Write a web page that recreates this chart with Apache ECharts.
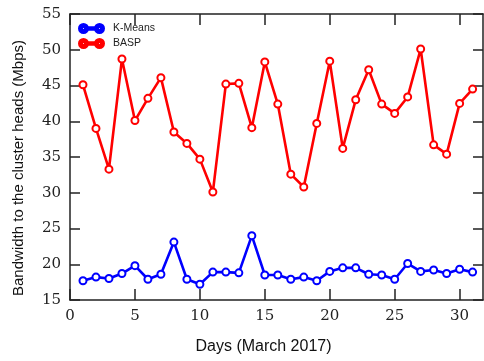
<!DOCTYPE html>
<html>
<head>
<meta charset="utf-8">
<script src="https://cdn.jsdelivr.net/npm/echarts@6/dist/echarts.min.js"></script>
<style>html,body{margin:0;padding:0;background:#fff}#c{width:484px;height:361px}</style>
</head>
<body>
<div id="c"></div>
<script>
var days = [];
for (var d = 1; d <= 31; d++) days.push(d);
var kmeans = [17.7,18.2,18.0,18.7,19.8,17.9,18.6,23.1,17.9,17.2,18.9,18.9,18.8,24.0,18.5,18.5,17.9,18.2,17.7,19.0,19.5,19.5,18.6,18.5,17.9,20.1,19.0,19.2,18.7,19.3,18.9];
var basp = [45.1,39.0,33.3,48.7,40.1,43.2,46.1,38.5,36.9,34.7,30.1,45.2,45.3,39.1,48.3,42.4,32.6,30.8,39.7,48.4,36.2,43.0,47.2,42.4,41.1,43.4,50.1,36.7,35.4,42.5,44.5];
var xTicks = [0,5,10,15,20,25,30];
var yTicks = [15,20,25,30,35,40,45,50,55];

function pairs(v){ return v.map(function(y,i){ return [days[i], y]; }); }

var axisLineStyle = {color:'#222', width:1.5};
var serif = 'DejaVu Serif';
var sans = 'Liberation Sans';
var legendIcon = 'path://M0,4.5a4.5,4.5 0 1,0 9,0a4.5,4.5 0 1,0 -9,0Z M3,4.5a1.5,1.5 0 1,1 3,0a1.5,1.5 0 1,1 -3,0Z M16,4.5a4.5,4.5 0 1,0 9,0a4.5,4.5 0 1,0 -9,0Z M19,4.5a1.5,1.5 0 1,1 3,0a1.5,1.5 0 1,1 -3,0Z M8.5,3.2L16.5,3.2L16.5,5.8L8.5,5.8Z';

var chart = echarts.init(document.getElementById('c'), null, {renderer:'canvas'});
chart.setOption({
  animation:false,
  backgroundColor:'#fff',
  grid:{left:70, top:14, right:1, bottom:61, containLabel:false},
  legend:{
    orient:'vertical', left:78, top:23, padding:0, itemWidth:25, itemHeight:9, itemGap:4,
    icon: legendIcon,
    textStyle:{fontFamily:sans, fontSize:10.5, color:'#222', padding:[0,0,0,4]},
    data:['K-Means','BASP']
  },
  xAxis:[{
    type:'value', position:'bottom', min:0, max:31.8, interval:5,
    name:'Days (March 2017)', nameLocation:'middle', nameGap:39,
    nameTextStyle:{fontFamily:sans, fontSize:16, color:'#111', padding:[0,26,0,0]},
    axisLine:{show:true, onZero:false, lineStyle:axisLineStyle},
    axisTick:{show:true, inside:true, length:11, lineStyle:axisLineStyle, customValues:xTicks},
    axisLabel:{fontFamily:serif, fontSize:15, color:'#222', margin:9, customValues:xTicks},
    splitLine:{show:false}
  },{
    type:'value', position:'top', min:0, max:31.8, interval:5,
    axisLine:{show:true, onZero:false, lineStyle:axisLineStyle},
    axisTick:{show:true, inside:true, length:11, lineStyle:axisLineStyle, customValues:xTicks},
    axisLabel:{show:false},
    splitLine:{show:false}
  }],
  yAxis:[{
    type:'value', position:'left', min:15, max:55, interval:5,
    name:'Bandwidth to the cluster heads (Mbps)', nameLocation:'middle', nameGap:44,
    nameTextStyle:{fontFamily:sans, fontSize:15, color:'#111', padding:[0,22,0,0]},
    axisLine:{show:true, onZero:false, lineStyle:axisLineStyle},
    axisTick:{show:true, inside:true, length:10, lineStyle:axisLineStyle, customValues:yTicks},
    axisLabel:{fontFamily:serif, fontSize:15, color:'#222', margin:9, customValues:yTicks},
    splitLine:{show:false}
  },{
    type:'value', position:'right', min:15, max:55, interval:5,
    axisLine:{show:true, onZero:false, lineStyle:axisLineStyle},
    axisTick:{show:true, inside:true, length:10, lineStyle:axisLineStyle, customValues:yTicks},
    axisLabel:{show:false},
    splitLine:{show:false}
  }],
  series:[{
    name:'K-Means', type:'line', xAxisIndex:0, yAxisIndex:0,
    data:pairs(kmeans), symbol:'emptyCircle', symbolSize:7,
    color:'#0000ff',
    lineStyle:{color:'#0000ff', width:2.6},
    itemStyle:{color:'#0000ff', borderColor:'#0000ff', borderWidth:2.6}
  },{
    name:'BASP', type:'line', xAxisIndex:0, yAxisIndex:0,
    data:pairs(basp), symbol:'emptyCircle', symbolSize:7,
    color:'#ff0000',
    lineStyle:{color:'#ff0000', width:2.6},
    itemStyle:{color:'#ff0000', borderColor:'#ff0000', borderWidth:2.6}
  }]
});
</script>
</body>
</html>
